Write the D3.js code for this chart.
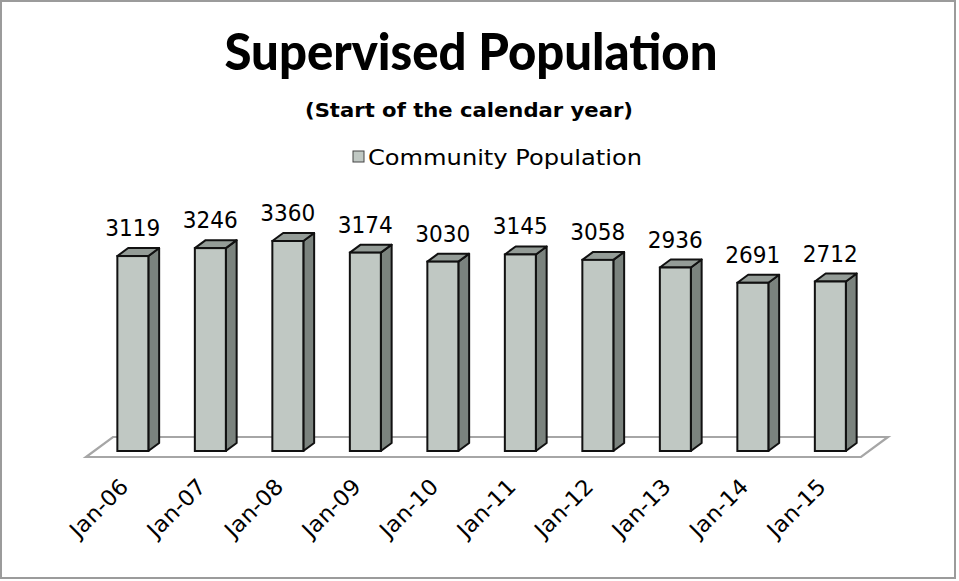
<!DOCTYPE html>
<html>
<head>
<meta charset="utf-8">
<script src="https://cdn.jsdelivr.net/npm/d3@7"></script>
<style>
  html, body { margin: 0; padding: 0; background: #fff; }
  svg { display: block; }
  text { font-family: "DejaVu Sans", "Noto Sans", sans-serif; fill: #000; }
</style>
</head>
<body>
<svg id="chart" width="959" height="581"></svg>
<script>
// Community population at the start of each calendar year
const categories = ["Jan-06", "Jan-07", "Jan-08", "Jan-09", "Jan-10", "Jan-11", "Jan-12", "Jan-13", "Jan-14", "Jan-15"];
const communityPopulation = [3119, 3246, 3360, 3174, 3030, 3145, 3058, 2936, 2691, 2712];
const seriesName = "Community Population";
const titleText = "Supervised Population";
const subtitleText = "(Start of the calendar year)";

const svg = d3.select("#chart");

// frame
svg.append("rect")
  .attr("x", 1).attr("y", 1).attr("width", 954).attr("height", 577)
  .attr("fill", "#fff").attr("stroke", "#9b9b9b").attr("stroke-width", 2);

// oblique floor geometry
const floorFrontY = 457;
const depth = { dx: 27, dy: -20 };
const barFront = 0.3, barBack = 0.7;

const x = d3.scaleBand()
  .domain(categories)
  .range([86, 861])
  .paddingInner(0.6)
  .paddingOuter(0.3);

const h = d3.scaleLinear().domain([0, 4000]).range([0, 250]);

// floor
const fx0 = 86, fx1 = 861;
svg.append("path")
  .attr("d", `M${fx0},${floorFrontY} L${fx1},${floorFrontY} L${fx1 + depth.dx},${floorFrontY + depth.dy} L${fx0 + depth.dx},${floorFrontY + depth.dy} Z`)
  .attr("fill", "#fff").attr("stroke", "#a6a6a6").attr("stroke-width", 2.2);

const sx = depth.dx * barFront, sy = depth.dy * barFront;
const ddx = depth.dx * (barBack - barFront), ddy = depth.dy * (barBack - barFront);
const bw = x.bandwidth();
const baseY = floorFrontY + sy;

const bars = svg.append("g").selectAll("g")
  .data(categories.map((c, i) => ({ c, v: communityPopulation[i] })))
  .join("g");

bars.each(function(d) {
  const g = d3.select(this);
  const x0 = x(d.c) + sx, x1 = x0 + bw;
  const yT = baseY - h(d.v), yB = baseY;
  // side face
  g.append("path")
    .attr("d", `M${x1},${yB} L${x1 + ddx},${yB + ddy} L${x1 + ddx},${yT + ddy} L${x1},${yT} Z`)
    .attr("fill", "#7b837e").attr("stroke", "#111").attr("stroke-width", 2).attr("stroke-linejoin", "round");
  // top face
  g.append("path")
    .attr("d", `M${x0},${yT} L${x0 + ddx},${yT + ddy} L${x1 + ddx},${yT + ddy} L${x1},${yT} Z`)
    .attr("fill", "#949c97").attr("stroke", "#111").attr("stroke-width", 2).attr("stroke-linejoin", "round");
  // front face
  g.append("rect")
    .attr("x", x0).attr("y", yT).attr("width", bw).attr("height", yB - yT)
    .attr("fill", "#c0c8c3").attr("stroke", "#111").attr("stroke-width", 2);
  // value label
  g.append("text")
    .attr("x", x0 + bw / 2).attr("y", yT - 20)
    .attr("text-anchor", "middle")
    .attr("font-size", 23)
    .attr("textLength", 55).attr("lengthAdjust", "spacingAndGlyphs")
    .text(d.v);
});

// category labels
svg.append("g").selectAll("text")
  .data(categories)
  .join("text")
  .attr("text-anchor", "end")
  .attr("font-size", 22)
  .attr("textLength", 72).attr("lengthAdjust", "spacingAndGlyphs")
  .attr("transform", d => `translate(${x(d) + bw / 2 + 5},${488}) rotate(-45)`)
  .text(d => d);

// titles
svg.append("text")
  .attr("x", 471).attr("y", 70)
  .attr("text-anchor", "middle")
  .style("font-family", "Lato, 'Open Sans', sans-serif")
  .attr("font-size", 51).attr("font-weight", 900)
  .attr("textLength", 493).attr("lengthAdjust", "spacingAndGlyphs")
  .text(titleText);

svg.append("text")
  .attr("x", 469).attr("y", 117)
  .attr("text-anchor", "middle")
  .attr("font-size", 20).attr("font-weight", "bold")
  .attr("textLength", 328).attr("lengthAdjust", "spacingAndGlyphs")
  .text(subtitleText);

// legend
const legend = svg.append("g");
legend.append("rect")
  .attr("x", 353).attr("y", 151).attr("width", 11).attr("height", 11)
  .attr("fill", "#c0c8c3").attr("stroke", "#444").attr("stroke-width", 1);
legend.append("text")
  .attr("x", 368).attr("y", 165)
  .attr("font-size", 22)
  .attr("textLength", 274).attr("lengthAdjust", "spacingAndGlyphs")
  .text(seriesName);
</script>
</body>
</html>
